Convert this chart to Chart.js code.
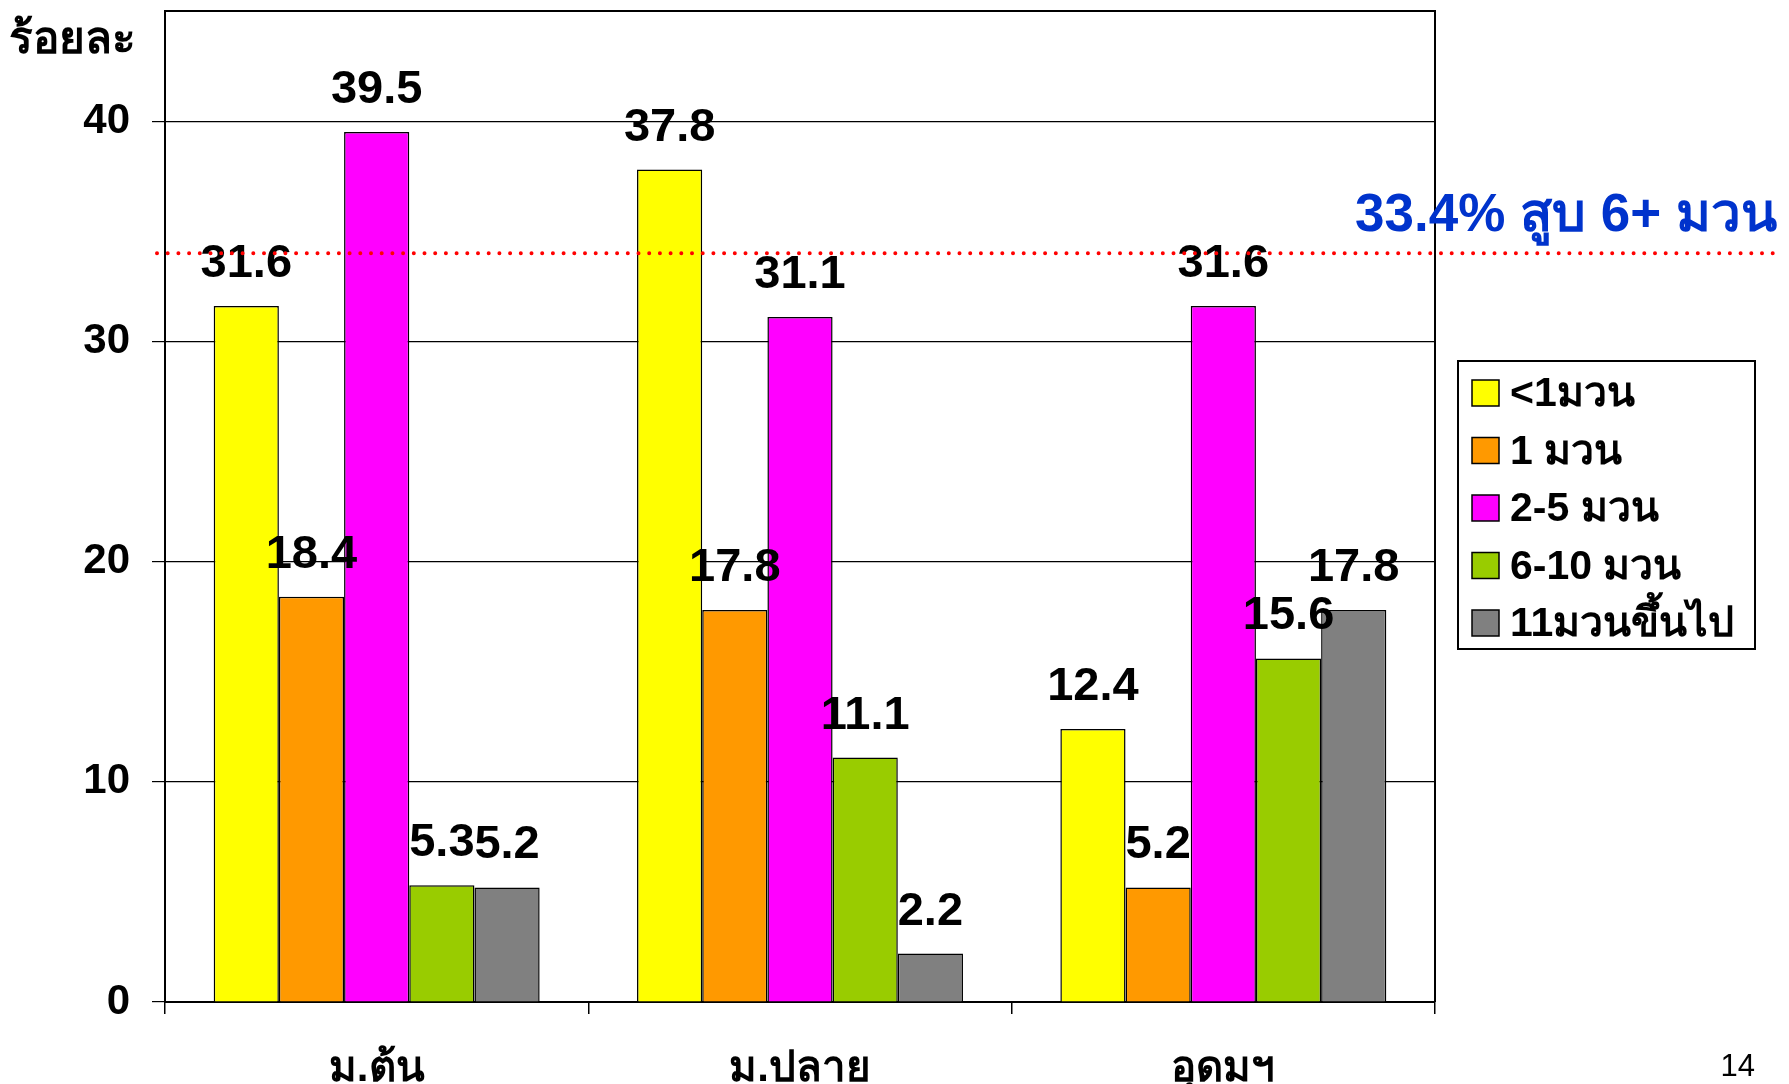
<!DOCTYPE html>
<html>
<head>
<meta charset="utf-8">
<script src="https://cdn.jsdelivr.net/npm/chart.js@4.4.1/dist/chart.umd.min.js"></script>
<style>
  html, body { margin: 0; padding: 0; background: #fff; }
  #wrap { width: 1789px; height: 1084px; }
</style>
</head>
<body>
<div id="wrap"><canvas id="chart" width="1789" height="1084"></canvas></div>
<script>
// categories and series (percent)
const categories = ['ม.ต้น', 'ม.ปลาย', 'อุดมฯ'];
const seriesNames = ['<1มวน', '1 มวน', '2-5 มวน', '6-10 มวน', '11มวนขึ้นไป'];
const seriesColors = ['#FFFF00', '#FF9900', '#FF00FF', '#99CC00', '#808080'];
const lessThanOne = [31.6, 37.8, 12.4];
const oneStick = [18.4, 17.8, 5.2];
const twoToFive = [39.5, 31.1, 31.6];
const sixToTen = [5.3, 11.1, 15.6];
const elevenPlus = [5.2, 2.2, 17.8];
const yTicks = [0, 10, 20, 30, 40];
const thresholdValue = 34;
const thresholdText = '33.4% สูบ 6+ มวน';
const yTitle = 'ร้อยละ';
const pageNumber = '14';

const FONT = "'Liberation Sans', Arial, sans-serif";
const seriesValues = [lessThanOne, oneStick, twoToFive, sixToTen, elevenPlus];

const datasets = seriesNames.map((name, i) => ({
    label: name,
    data: seriesValues[i],
    backgroundColor: seriesColors[i],
    borderColor: '#000',
    borderWidth: 1.5,
    categoryPercentage: 0.77,
    barPercentage: 1.0
}));

// extra drawing: frame, threshold line, value labels, legend box, titles
const decorations = {
    id: 'decorations',
    afterDatasetsDraw(chart) {
        const ctx = chart.ctx;
        const area = chart.chartArea;
        const y = chart.scales.y;

        // frame top + right
        ctx.save();
        ctx.strokeStyle = '#000';
        ctx.lineWidth = 2;
        ctx.beginPath();
        ctx.moveTo(area.left, area.top);
        ctx.lineTo(area.right, area.top);
        ctx.lineTo(area.right, area.bottom);
        ctx.stroke();
        ctx.restore();

        // value labels
        ctx.save();
        ctx.font = 'bold 47px ' + FONT;
        ctx.fillStyle = '#000';
        ctx.textAlign = 'center';
        ctx.textBaseline = 'alphabetic';
        chart.data.datasets.forEach((ds, di) => {
            const meta = chart.getDatasetMeta(di);
            meta.data.forEach((bar, i) => {
                ctx.fillText(ds.data[i].toFixed(1), bar.x, bar.y - 29);
            });
        });
        ctx.restore();

        // threshold dotted line
        const ty = y.getPixelForValue(thresholdValue);
        ctx.save();
        ctx.strokeStyle = '#FF0000';
        ctx.lineWidth = 4;
        ctx.lineCap = 'round';
        ctx.setLineDash([0, 10.7]);
        ctx.beginPath();
        ctx.moveTo(157, ty);
        ctx.lineTo(1775, ty);
        ctx.stroke();
        ctx.restore();

        ctx.save();
        ctx.font = 'bold 53px ' + FONT;
        ctx.fillStyle = '#0033CC';
        ctx.textAlign = 'left';
        ctx.fillText(thresholdText, 1355, ty - 22);
        ctx.restore();

        // y title
        ctx.save();
        ctx.font = 'bold 44px ' + FONT;
        ctx.fillStyle = '#000';
        ctx.textAlign = 'left';
        ctx.fillText(yTitle, 9, 53);
        ctx.restore();

        // legend
        const lx = 1458, ly = 361, lw = 297, lh = 288;
        ctx.save();
        ctx.strokeStyle = '#000';
        ctx.lineWidth = 2;
        ctx.strokeRect(lx, ly, lw, lh);
        ctx.font = 'bold 41px ' + FONT;
        ctx.textBaseline = 'middle';
        ctx.textAlign = 'left';
        chart.data.datasets.forEach((ds, i) => {
            const cy = ly + 32 + i * 57.5;
            ctx.fillStyle = ds.backgroundColor;
            ctx.fillRect(lx + 14, cy - 13, 27, 26);
            ctx.lineWidth = 1.5;
            ctx.strokeRect(lx + 14, cy - 13, 27, 26);
            ctx.fillStyle = '#000';
            ctx.fillText(ds.label, lx + 52, cy + 2);
        });
        ctx.restore();

        // page number
        ctx.save();
        ctx.font = '31px ' + FONT;
        ctx.fillStyle = '#000';
        ctx.textAlign = 'right';
        ctx.fillText(pageNumber, 1755, 1076);
        ctx.restore();
    }
};

new Chart(document.getElementById('chart'), {
    type: 'bar',
    data: { labels: categories, datasets: datasets },
    plugins: [decorations],
    options: {
        responsive: false,
        animation: false,
        layout: { padding: { top: 11, right: 354, bottom: 0, left: 0 } },
        plugins: {
            legend: { display: false },
            tooltip: { enabled: false }
        },
        scales: {
            x: {
                afterFit: (scale) => {
                    scale.height = 82;
                    scale.paddingLeft = 0;
                    scale.paddingRight = 0;
                },
                grid: {
                    offset: true,
                    drawOnChartArea: false,
                    drawTicks: true,
                    tickLength: 12,
                    color: '#000',
                    lineWidth: 1.5
                },
                border: { color: '#000', width: 2 },
                ticks: {
                    color: '#000',
                    font: { family: FONT, size: 42, weight: 'bold' },
                    padding: 30,
                    maxRotation: 0
                }
            },
            y: {
                min: 0,
                max: 45,
                afterFit: (scale) => {
                    scale.width = 165;
                    scale.paddingTop = 0;
                    scale.paddingBottom = 0;
                },
                afterBuildTicks: (scale) => { scale.ticks = yTicks.map(v => ({ value: v })); },
                grid: {
                    color: '#000',
                    lineWidth: 1.2,
                    tickLength: 13
                },
                border: { color: '#000', width: 2 },
                ticks: {
                    color: '#000',
                    font: { family: FONT, size: 42, weight: 'bold' },
                    padding: 22
                }
            }
        }
    }
});
</script>
</body>
</html>
